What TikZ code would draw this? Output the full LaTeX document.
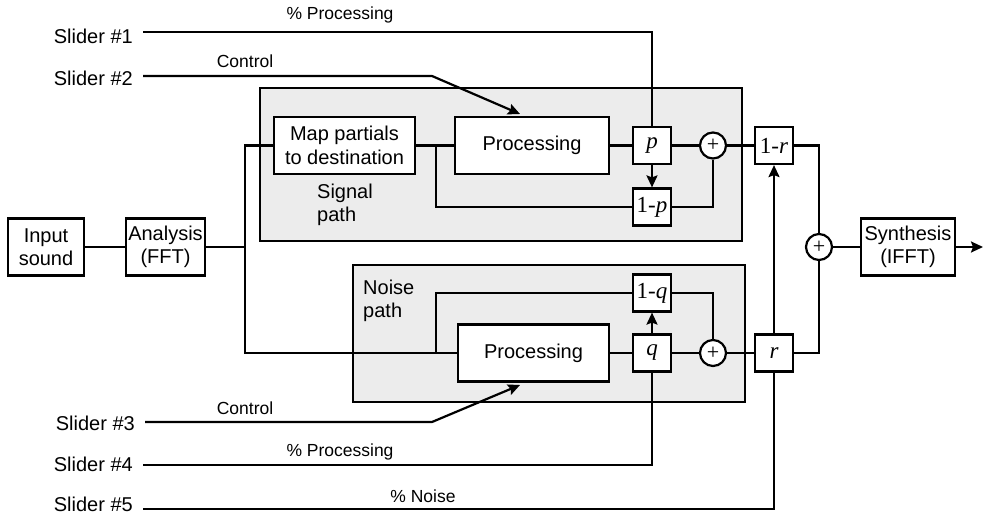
\documentclass[tikz,border=0pt]{standalone}
\usepackage{fontspec}
\setmainfont{Liberation Sans}
\newfontfamily\serifmath{Liberation Serif}
\usetikzlibrary{arrows.meta}

\tikzset{
  box/.style={draw, fill=white, line width=2.2pt, inner sep=0pt, align=center, font=\fontsize{20}{23.5}\selectfont},
  gain/.style={box, minimum width=38pt, minimum height=37pt, font=\fontsize{23}{23}\serifmath},
  sum/.style={draw, fill=white, circle, line width=2.2pt, minimum size=26pt, inner sep=0pt, font=\fontsize{22}{22}\serifmath},
  panel/.style={draw, fill=gray!15, line width=2.2pt},
  wire/.style={line width=2.2pt},
  arr/.style={wire, -{Stealth[length=12pt,width=11pt,inset=2pt]}},
  lbl/.style={font=\fontsize{17.5}{20}\selectfont, inner sep=0pt},
  slider/.style={font=\fontsize{20}{20}\selectfont, anchor=east, inner sep=0pt},
}

\begin{document}
\begin{tikzpicture}[x=1pt, y=-1pt]
\useasboundingbox (0,0) rectangle (984,516);

% ---- rows
\def\srow{145.5}   % signal path
\def\nrow{353}     % noise path
\def\mrow{247}     % main line

% grey panels
\draw[panel] (260,88) rectangle (742,241);
\draw[panel] (353,265) rectangle (745,402);
\node[lbl, font=\fontsize{20}{23.5}\selectfont, align=left, anchor=west] (sigtxt) at (317,205) {Signal\\path};
\node[lbl, font=\fontsize{20}{23.5}\selectfont, align=left, anchor=west] (noitxt) at (363,301) {Noise\\path};

% blocks
\node[box, minimum width=76pt, minimum height=57pt] (inp) at (46,\mrow) {Input\\sound};
\node[box, minimum width=79pt, minimum height=57pt] (ana) at (165.5,\mrow) {Analysis\\(FFT)};
\node[box, minimum width=141pt, minimum height=57pt] (map) at (344.5,\srow) {Map partials\\to destination};
\node[box, minimum width=154pt, minimum height=57pt] (sproc) at (532,\srow) {Processing};
\node[box, minimum width=151pt, minimum height=57pt] (nproc) at (533.5,\nrow) {Processing};
\node[box, minimum width=94pt, minimum height=57pt] (synth) at (908,\mrow) {Synthesis\\(IFFT)};

% gains and sums
\node[gain] (pbox) at (652,\srow) {\itshape p};
\node[gain] (onep) at (652,207) {1-\itshape p};
\node[gain] (qbox) at (652,\nrow) {\itshape q};
\node[gain] (oneq) at (652,293) {1-\itshape q};
\node[gain] (onermr) at (774,\srow) {1-\itshape r};
\node[gain] (rbox) at (774,\nrow) {\itshape r};
\node[sum] (splus) at (713,\srow) {+};
\node[sum] (nplus) at (713,\nrow) {+};
\node[sum] (oplus) at (819,\mrow) {+};

% junctions
\coordinate (ja) at (245,\mrow);
\coordinate (sb) at (436,\srow);
\coordinate (nb) at (436,\nrow);
\coordinate (out) at (983,\mrow);

% main signal flow
\draw[wire] (inp) -- (ana);
\draw[wire] (ana) -- (ja);
\draw[wire] (map.west) -| (ja) |- (nproc.west);
\draw[wire] (map) -- (sproc);
\draw[wire] (sb) |- (onep.west);
\draw[wire] (sproc) -- (pbox);
\draw[wire] (pbox) -- (splus);
\draw[wire] (splus) -- (onermr);
\draw[wire] (onep.east) -| (splus.south);
\draw[arr] (pbox) -- (onep);
\draw[wire] (nb) |- (oneq.west);
\draw[wire] (nproc) -- (qbox);
\draw[wire] (qbox) -- (nplus);
\draw[wire] (nplus) -- (rbox);
\draw[wire] (oneq.east) -| (nplus.north);
\draw[arr] (qbox) -- (oneq);
\draw[wire] (onermr.east) -| (oplus.north);
\draw[wire] (rbox.east) -| (oplus.south);
\draw[wire] (oplus) -- (synth);
\draw[arr] (synth) -- (out);

% sliders
\node[slider] (s1) at (133,36) {Slider \#1};
\node[slider] (s2) at (133,78) {Slider \#2};
\node[slider] (s3) at (135,423) {Slider \#3};
\node[slider] (s4) at (133,464) {Slider \#4};
\node[slider] (s5) at (133,504) {Slider \#5};
\coordinate (l1) at (143,32);
\coordinate (l2) at (143,76);
\coordinate (l3) at (145,422);
\coordinate (l4) at (143,465);
\coordinate (l5) at (143,509);

\draw[wire] (l1) -| (pbox.north);
\draw[arr] (l2) -- (432,76) -- (520,114);
\draw[arr] (l3) -- (432,422) -- (520,385);
\draw[wire] (l4) -| (qbox.south);
\draw[wire] (l5) -| (rbox.south);
\draw[arr] (rbox.north) -- (onermr.south);

\node[lbl] (t1) at (340,15) {\% Processing};
\node[lbl] (t2) at (245,61) {Control};
\node[lbl] (t3) at (245,408) {Control};
\node[lbl] (t4) at (340,452) {\% Processing};
\node[lbl] (t5) at (423,496) {\% Noise};
\end{tikzpicture}
\end{document}
